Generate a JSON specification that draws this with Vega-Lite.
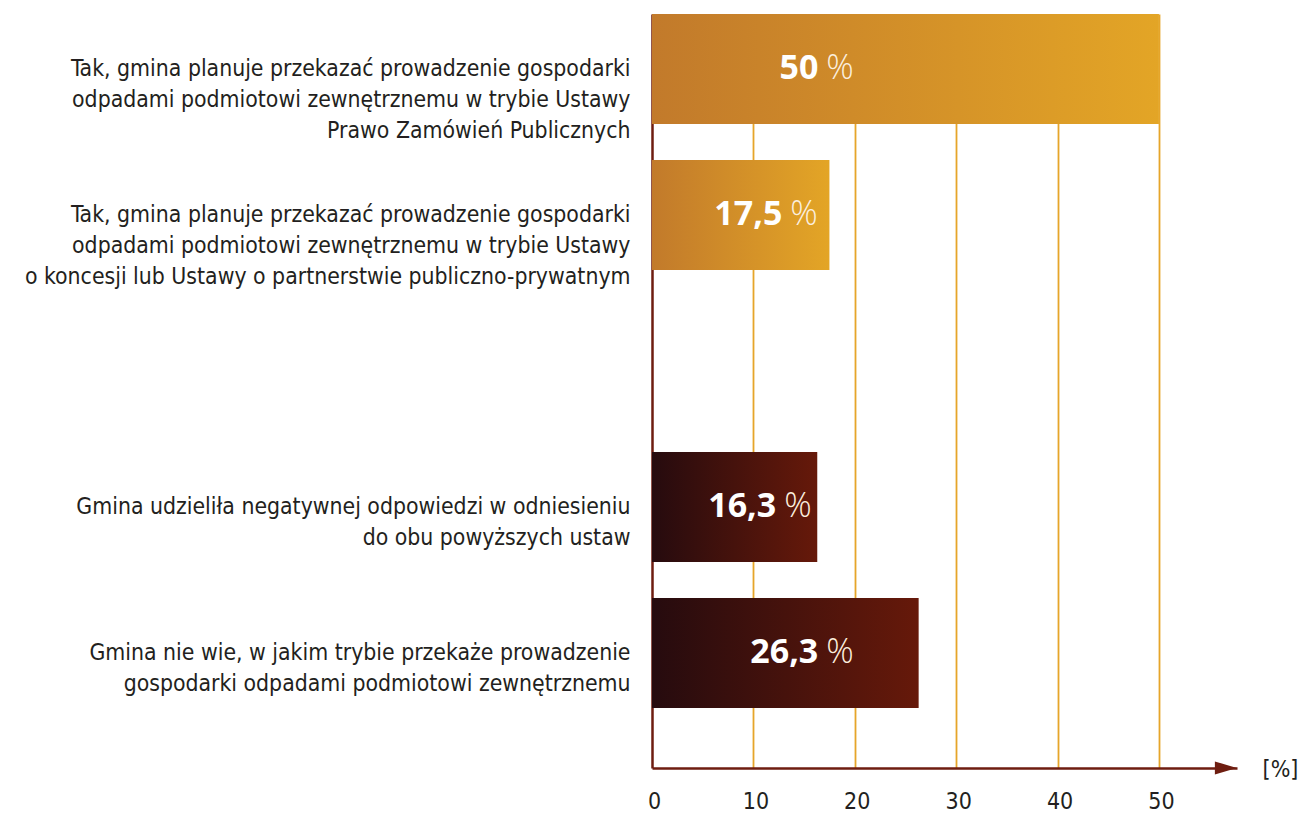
{
  "$schema": "https://vega.github.io/schema/vega-lite/v6.json",
  "width": 585,
  "height": 754,
  "autosize": {"type": "none"},
  "padding": {"left": 652, "top": 14, "right": 63, "bottom": 46},
  "background": "white",
  "config": {"view": {"stroke": null}},
  "data": {
    "values": [
      {"cat": "Tak, gmina planuje przekazać prowadzenie gospodarki|odpadami podmiotowi zewnętrznemu w trybie Ustawy|Prawo Zamówień Publicznych", "value": 50, "lab": "50", "grp": "tak"},
      {"cat": "Tak, gmina planuje przekazać prowadzenie gospodarki|odpadami podmiotowi zewnętrznemu w trybie Ustawy|o koncesji lub Ustawy o partnerstwie publiczno-prywatnym", "value": 17.5, "lab": "17,5", "grp": "tak"},
      {"cat": "Gmina udzieliła negatywnej odpowiedzi w odniesieniu|do obu powyższych ustaw", "value": 16.3, "lab": "16,3", "grp": "nie"},
      {"cat": "Gmina nie wie, w jakim trybie przekaże prowadzenie|gospodarki odpadami podmiotowi zewnętrznemu", "value": 26.3, "lab": "26,3", "grp": "nie"}
    ]
  },
  "transform": [
    {"calculate": "min(datum.value / 2 + 4.5, 16.8)", "as": "labx"}
  ],
  "layer": [
    {
      "transform": [{"filter": "datum.grp === 'tak'"}],
      "mark": {
        "type": "bar",
        "color": {"gradient": "linear", "x1": 0, "x2": 1, "y1": 0, "y2": 0,
          "stops": [{"offset": 0, "color": "#c27a2b"}, {"offset": 1, "color": "#e3a526"}]}
      },
      "encoding": {
        "y": {
          "field": "cat", "type": "nominal", "sort": null,
          "scale": {
            "domain": [
              "Tak, gmina planuje przekazać prowadzenie gospodarki|odpadami podmiotowi zewnętrznemu w trybie Ustawy|Prawo Zamówień Publicznych",
              "Tak, gmina planuje przekazać prowadzenie gospodarki|odpadami podmiotowi zewnętrznemu w trybie Ustawy|o koncesji lub Ustawy o partnerstwie publiczno-prywatnym",
              " ",
              "Gmina udzieliła negatywnej odpowiedzi w odniesieniu|do obu powyższych ustaw",
              "Gmina nie wie, w jakim trybie przekaże prowadzenie|gospodarki odpadami podmiotowi zewnętrznemu"
            ],
            "paddingInner": 0.247, "paddingOuter": 0.2055, "align": 0
          },
          "axis": {
            "title": null,
            "labelExpr": "split(datum.label, '|')",
            "labelFont": "DejaVu Sans Condensed",
            "labelFontSize": 22.8,
            "labelLineHeight": 31,
            "labelColor": "#231f20",
            "labelPadding": 22,
            "labelLimit": 0,
            "ticks": false,
            "domainColor": "#6e1d10",
            "domainWidth": 2.5,
            "grid": false
          }
        },
        "x": {
          "field": "value", "type": "quantitative",
          "scale": {"domain": [0, 57.7], "nice": false, "zero": true},
          "axis": {
            "values": [0, 10, 20, 30, 40, 50],
            "title": "[%]",
            "titleAngle": 0,
            "titleX": 628,
            "titleY": 1,
            "titleAlign": "center",
            "titleBaseline": "middle",
            "titleFont": "DejaVu Sans Condensed",
            "titleFontSize": 23,
            "titleFontWeight": "normal",
            "titleColor": "#231f20",
            "labelFont": "DejaVu Sans Condensed",
            "labelFontSize": 23,
            "labelColor": "#231f20",
            "labelPadding": 22,
            "labelFlush": false,
            "labelOffset": 2,
            "ticks": false,
            "domainColor": "#6e1d10",
            "domainWidth": 2.5,
            "grid": true,
            "gridColor": {"condition": {"test": "datum.value === 0", "value": "transparent"}, "value": "#e6a52a"},
            "gridWidth": 1.8,
            "gridOpacity": 1
          }
        }
      }
    },
    {
      "transform": [{"filter": "datum.grp === 'nie'"}],
      "mark": {
        "type": "bar",
        "color": {"gradient": "linear", "x1": 0, "x2": 1, "y1": 0, "y2": 0,
          "stops": [{"offset": 0, "color": "#260b0e"}, {"offset": 1, "color": "#66190a"}]}
      },
      "encoding": {
        "y": {"field": "cat", "type": "nominal", "sort": null},
        "x": {"field": "value", "type": "quantitative"}
      }
    },
    {
      "mark": {"type": "text", "align": "right", "baseline": "middle", "dx": -4, "font": "Open Sans", "fontWeight": "bold", "fontSize": 34, "color": "white"},
      "encoding": {
        "y": {"field": "cat", "type": "nominal", "sort": null},
        "x": {"field": "labx", "type": "quantitative"},
        "text": {"field": "lab"}
      }
    },
    {
      "mark": {"type": "text", "align": "left", "baseline": "middle", "dx": 4, "font": "Open Sans", "fontWeight": 300, "fontSize": 34, "color": "#fbeede", "text": "%"},
      "encoding": {
        "y": {"field": "cat", "type": "nominal", "sort": null},
        "x": {"field": "labx", "type": "quantitative"}
      }
    },
    {
      "data": {"values": [{"arrow": 1}]},
      "mark": {"type": "point", "shape": "M-1,-0.6L1,0L-1,0.6Z", "filled": true, "color": "#6e1d10", "size": 484, "opacity": 1},
      "encoding": {
        "x": {"datum": 56.6, "type": "quantitative"},
        "y": {"value": {"expr": "height"}}
      }
    }
  ]
}
